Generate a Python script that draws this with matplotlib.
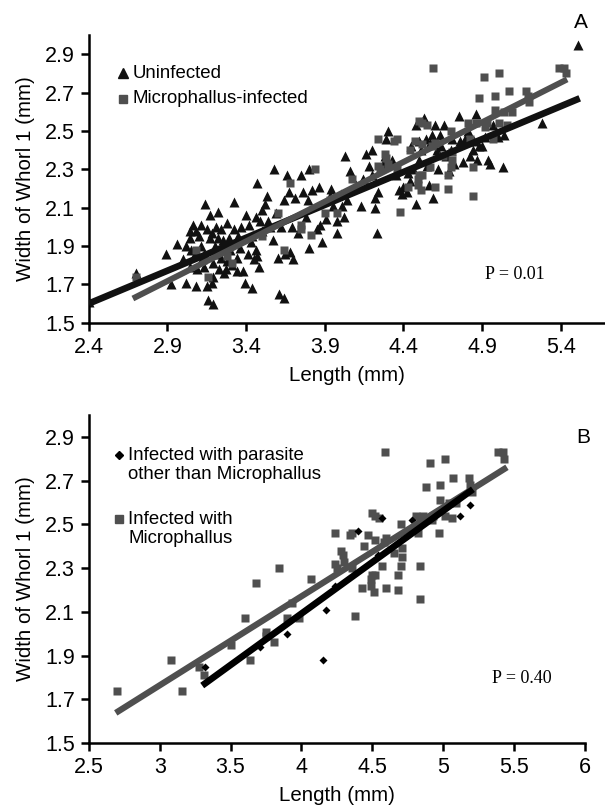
import matplotlib
matplotlib.use("Agg")
import matplotlib.pyplot as plt
import numpy as np

plt.rcParams['font.family'] = ['Liberation Sans', 'DejaVu Sans']

# panel A: uninfected snails (triangles)
uninf_length = [
    2.40, 2.70, 2.89, 2.92, 2.96, 3.00, 3.02, 3.02, 3.04, 3.04, 3.04, 3.06,
    3.08, 3.08, 3.08, 3.09, 3.11, 3.11, 3.12, 3.13, 3.14, 3.15, 3.15, 3.16,
    3.17, 3.17, 3.18, 3.19, 3.19, 3.19, 3.20, 3.21, 3.22, 3.22, 3.23, 3.24,
    3.25, 3.26, 3.27, 3.28, 3.28, 3.29, 3.30, 3.32, 3.32, 3.34, 3.34, 3.36,
    3.38, 3.39, 3.40, 3.41, 3.42, 3.43, 3.44, 3.45, 3.46, 3.46, 3.47, 3.48,
    3.49, 3.50, 3.52, 3.53, 3.54, 3.57, 3.58, 3.59, 3.60, 3.61, 3.64, 3.64,
    3.65, 3.66, 3.67, 3.68, 3.69, 3.70, 3.71, 3.73, 3.75, 3.76, 3.78, 3.79,
    3.80, 3.80, 3.82, 3.85, 3.86, 3.87, 3.88, 3.91, 3.93, 3.94, 3.95, 3.98,
    3.98, 4.00, 4.01, 4.02, 4.03, 4.04, 4.06, 4.13, 4.14, 4.16, 4.18, 4.20,
    4.22, 4.22, 4.23, 4.24, 4.27, 4.28, 4.29, 4.30, 4.33, 4.35, 4.37, 4.39,
    4.40, 4.42, 4.44, 4.46, 4.48, 4.48, 4.50, 4.51, 4.53, 4.54, 4.55, 4.56,
    4.58, 4.59, 4.60, 4.61, 4.62, 4.63, 4.66, 4.67, 4.69, 4.71, 4.72, 4.75,
    4.76, 4.78, 4.81, 4.82, 4.84, 4.86, 4.87, 4.88, 4.90, 4.92, 4.94, 4.95,
    4.97, 5.00, 5.03, 5.04, 5.28, 5.51,
    3.05, 3.10, 3.13, 3.18, 3.21, 3.24, 3.27, 3.31, 3.35, 3.37, 3.44, 3.47,
    3.50, 3.55, 3.62, 4.45, 4.57, 4.64, 4.70, 4.79, 4.85, 4.50, 4.43, 4.10,
    4.20,
]
uninf_width = [
    1.61, 1.76, 1.86, 1.70, 1.91, 1.83, 1.71, 1.90, 1.94, 1.79, 1.98, 2.01,
    1.98, 1.69, 1.87, 1.78, 1.90, 2.01, 1.83, 1.79, 2.12, 1.99, 1.69, 1.62,
    2.06, 1.94, 1.71, 1.60, 1.81, 1.74, 1.90, 2.00, 2.08, 1.94, 1.78, 1.99,
    1.93, 1.76, 1.78, 2.02, 1.82, 1.94, 1.88, 2.13, 1.99, 1.84, 1.77, 1.89,
    1.77, 1.71, 2.06, 1.86, 2.01, 1.92, 1.68, 1.83, 2.05, 1.88, 2.23, 1.79,
    2.03, 2.09, 2.12, 2.16, 2.03, 1.93, 2.30, 2.07, 1.84, 1.65, 1.63, 2.14,
    1.86, 2.27, 2.18, 1.87, 2.00, 1.83, 2.15, 1.97, 2.27, 2.18, 2.05, 2.14,
    1.89, 2.30, 2.19, 1.99, 2.21, 2.01, 1.92, 2.04, 2.16, 2.20, 2.11, 2.03,
    1.97, 2.17, 2.11, 2.05, 2.37, 2.14, 2.29, 2.11, 2.25, 2.38, 2.32, 2.40,
    2.10, 2.15, 1.97, 2.18, 2.33, 2.37, 2.46, 2.50, 2.35, 2.27, 2.19, 2.17,
    2.21, 2.18, 2.24, 2.30, 2.53, 2.12, 2.45, 2.40, 2.57, 2.46, 2.32, 2.22,
    2.48, 2.15, 2.53, 2.40, 2.30, 2.48, 2.53, 2.37, 2.29, 2.46, 2.33, 2.58,
    2.45, 2.34, 2.50, 2.37, 2.40, 2.59, 2.35, 2.42, 2.42, 2.47, 2.35, 2.33,
    2.53, 2.47, 2.31, 2.48, 2.54, 2.95,
    1.88, 1.95, 1.86, 1.97, 1.86, 1.84, 1.90, 1.80, 1.95, 2.00, 1.95, 1.85,
    1.98, 2.00, 2.00, 2.42, 2.44, 2.42, 2.40, 2.46, 2.45, 2.35, 2.28, 2.22,
    2.27,
]

# Microphallus-infected snails (squares), same in both panels
micro_length = [
    2.70, 3.08, 3.16, 3.28, 3.31, 3.50, 3.60, 3.64, 3.68, 3.75, 3.75, 3.81,
    3.84, 3.90, 3.93, 3.98, 4.07, 4.24, 4.24, 4.25, 4.28, 4.29, 4.30, 4.34,
    4.36, 4.36, 4.38, 4.43, 4.44, 4.47, 4.49, 4.49, 4.50, 4.50, 4.51, 4.52,
    4.52, 4.52, 4.55, 4.57, 4.58, 4.59, 4.60, 4.60, 4.65, 4.68, 4.68, 4.70,
    4.71, 4.71, 4.70, 4.81, 4.82, 4.84, 4.84, 4.86, 4.88, 4.91, 4.92, 4.93,
    4.97, 4.98, 4.98, 5.01, 5.01, 5.04, 5.06, 5.07, 5.09, 5.18, 5.19, 5.20,
    5.39, 5.42, 5.43,
]
micro_width = [
    1.74, 1.88, 1.74, 1.85, 1.81, 1.95, 2.07, 1.88, 2.23, 2.01, 1.99, 1.96,
    2.30, 2.07, 2.14, 2.07, 2.25, 2.46, 2.32, 2.30, 2.38, 2.36, 2.33, 2.45,
    2.46, 2.30, 2.08, 2.21, 2.40, 2.45, 2.25, 2.22, 2.55, 2.27, 2.19, 2.27,
    2.54, 2.43, 2.53, 2.31, 2.42, 2.83, 2.21, 2.44, 2.37, 2.20, 2.27, 2.50,
    2.39, 2.35, 2.31, 2.54, 2.46, 2.31, 2.16, 2.54, 2.67, 2.78, 2.52, 2.54,
    2.46, 2.68, 2.61, 2.80, 2.54, 2.60, 2.53, 2.71, 2.60, 2.71, 2.68, 2.65,
    2.83, 2.83, 2.80,
]

# panel B: infected with other parasites (diamonds)
other_length = [3.32, 3.71, 3.90, 4.15, 4.17, 4.24, 4.40, 4.54, 4.57, 4.78, 5.12, 5.19]
other_width = [1.85, 1.94, 2.00, 1.88, 2.11, 2.22, 2.47, 2.36, 2.53, 2.52, 2.54, 2.59]

# regression lines: (x start, x end, slope, intercept)
fit_a_uninf = (2.40, 5.52, 0.343, 0.777)
fit_a_micro = (2.68, 5.44, 0.414, 0.517)
fit_b_micro = (2.69, 5.45, 0.407, 0.543)
fit_b_other = (3.30, 5.21, 0.470, 0.212)

a_xticks = [2.4, 2.9, 3.4, 3.9, 4.4, 4.9, 5.4]
b_xticks = [2.5, 3, 3.5, 4, 4.5, 5, 5.5, 6]
b_xticklabels = ['2.5', '3', '3.5', '4', '4.5', '5', '5.5', '6']
yticks = [1.5, 1.7, 1.9, 2.1, 2.3, 2.5, 2.7, 2.9]

BLACK = '#111111'
GREY = '#4f4f4f'
FIG_H = 811


def fit_line(ax, fit, color, lw):
    x0, x1, m, b = fit
    xs = np.array([x0, x1])
    ax.plot(xs, m * xs + b, color=color, lw=lw, solid_capstyle='butt', zorder=4)


def legend_entry(ax, x, y, marker, ms, color, lines, ax_h_px, step_px=19):
    # marker next to the first line, following lines stacked below
    ax.plot([x], [y], marker=marker, ms=ms, color=color, ls='none',
            transform=ax.transAxes, clip_on=False)
    for i, line in enumerate(lines):
        ax.text(x + 0.018, y - i * step_px / ax_h_px, line,
                transform=ax.transAxes, fontsize=13.4, va='center', ha='left')


def style_axes(ax):
    for side in ['top', 'right']:
        ax.spines[side].set_visible(False)
    for side in ['left', 'bottom']:
        ax.spines[side].set_linewidth(1.8)
    ax.tick_params(direction='out', length=6, width=1.8, labelsize=15.5, pad=4)
    ax.set_yticks(yticks)
    ax.set_yticklabels([f'{v:.1f}' for v in yticks])
    ax.set_ylim(1.5, 3.0)
    ax.set_ylabel('Width of Whorl 1 (mm)', fontsize=14.8, labelpad=7)
    ax.set_xlabel('Length (mm)', fontsize=14.8, labelpad=6)


fig = plt.figure(figsize=(6.05, 8.11), dpi=100)

# ---- panel A ----
a_box = [0.1468, 0.602, 0.853, 0.3547]
ax1 = fig.add_axes(a_box)
ax1.plot(uninf_length, uninf_width, '^', ms=6.8, color=BLACK, mec='none', zorder=2)
ax1.plot(micro_length, micro_width, 's', ms=5.8, color=GREY, mec='none', zorder=3)
fit_line(ax1, fit_a_uninf, BLACK, 4.8)
fit_line(ax1, fit_a_micro, GREY, 4.3)
style_axes(ax1)
ax1.set_xlim(2.4, 5.68)
ax1.set_xticks(a_xticks)
ax1.set_xticklabels([f'{v:.1f}' for v in a_xticks])
a_h = a_box[3] * FIG_H
legend_entry(ax1, 0.066, 0.868, '^', 6.8, BLACK, ['Uninfected'], a_h)
legend_entry(ax1, 0.066, 0.778, 's', 5.8, GREY, ['Microphallus-infected'], a_h)
ax1.text(0.825, 0.169, 'P = 0.01', transform=ax1.transAxes, fontsize=13,
         family='Liberation Serif', ha='center', va='center')
fig.text(0.960, 0.972, 'A', fontsize=15, ha='center', va='center')

# ---- panel B ----
b_box = [0.1468, 0.0838, 0.820, 0.4044]
ax2 = fig.add_axes(b_box)
ax2.plot(micro_length, micro_width, 's', ms=5.8, color=GREY, mec='none', zorder=3)
ax2.plot(other_length, other_width, 'D', ms=4.4, color='black', mec='none', zorder=3)
fit_line(ax2, fit_b_micro, GREY, 4.5)
fit_line(ax2, fit_b_other, 'black', 4.8)
style_axes(ax2)
ax2.set_xlim(2.5, 6.0)
ax2.set_xticks(b_xticks)
ax2.set_xticklabels(b_xticklabels)
b_h = b_box[3] * FIG_H
legend_entry(ax2, 0.061, 0.878, 'D', 4.4, 'black',
             ['Infected with parasite', 'other than Microphallus'], b_h)
legend_entry(ax2, 0.061, 0.683, 's', 5.8, GREY,
             ['Infected with', 'Microphallus'], b_h)
ax2.text(0.873, 0.198, 'P = 0.40', transform=ax2.transAxes, fontsize=13,
         family='Liberation Serif', ha='center', va='center')
fig.text(0.964, 0.461, 'B', fontsize=15, ha='center', va='center')

fig.savefig('out.png', dpi=100)
